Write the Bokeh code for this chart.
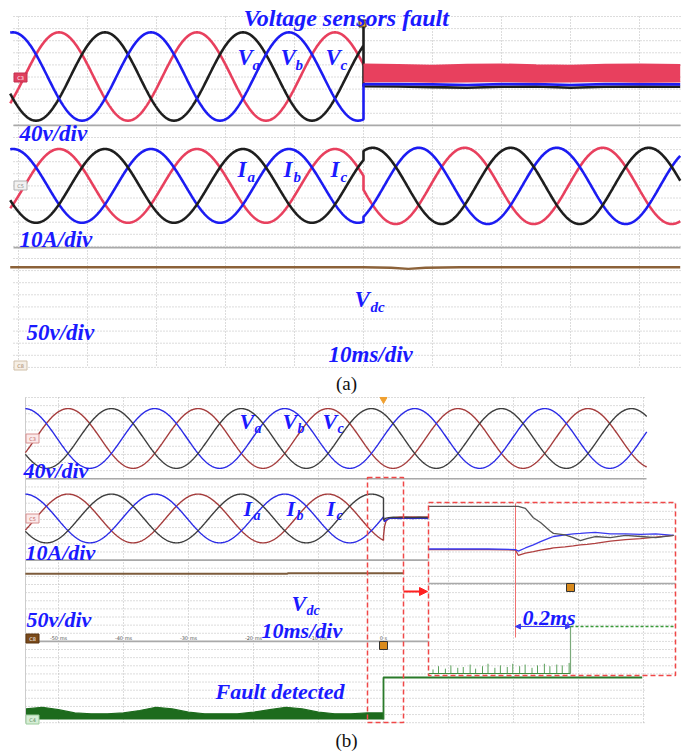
import numpy as np
from bokeh.plotting import figure
from bokeh.models import Range1d, Arrow, NormalHead
from bokeh.core.properties import value
from bokeh.embed import file_html
from bokeh.resources import INLINE

# ------------------------------------------------------------------
# DATA
# ------------------------------------------------------------------
F_HZ = 50.0
PHASE_LAG_MS = [0.0, 20.0 / 3, 40.0 / 3]          # blue -> red -> black
COLORS_A = ["#1c1cf2", "#e8405e", "#1e1e1e"]
COLORS_B = ["#2b2be6", "#a53c3c", "#3d3d3d"]

# panel (a): voltage sensors fault
A_T_START, A_T_END = -51.2, 45.9                   # ms
A_V_PEAK = 146.0                                   # V  (40 V/div)
A_BLUE_PEAK_MS = -10.8
A_I_PEAK_PRE = 30.5                                # A  (10 A/div)
A_I_PEAK_POST = 31.5
A_I_BLUE_PEAK_POST_MS = 8.0
A_BLACK_SPIKE_V = 178.0
A_POST_T = [0, 5, 10, 15, 20, 25, 30, 35, 40, 45.9]
A_RED_TOP = [40, 38, 36, 39, 40, 37, 36, 39, 40, 38]
A_RED_BOT = [-17, -16, -18, -17, -16, -18, -17, -16, -18, -17]
A_BLUE_POST = [-25, -25, -26, -28, -25, -25, -28, -25, -25, -26]
A_BLACK_POST = [-32, -33, -35, -37, -34, -33, -37, -34, -33, -34]
A_VDC_T = [-51.2, -10, 0, 4, 6.5, 9, 14, 45.9]
A_VDC = [400, 400, 400, 398, 393, 398, 400, 400]   # V (50 V/div)

# panel (b): fault detection
B_T_START, B_T_END = -55.1, 40.5
B_V_PEAK = 147.0
B_BLUE_PEAK_MS = -15.2
B_I_PEAK = 30.0
B_POST_T = [0, 0.15, 0.4, 0.8, 1.5, 2.5, 3.5, 4.5, 5.5, 6.9]
B_BLUE_POST = [2, -4, -2, 0, 0.5, 0, 0.5, 0, 0.5, 0]
B_RED_POST = [-22, -10, -3, 0, 1, 2, 1.5, 2, 1.5, 2]
B_BLACK_POST = [-2, -1, 0.5, 1, 1.5, 1, 1.5, 1, 1.5, 1]
B_VDC_T = [-55.1, -14.8, -14.7, 3.1]
B_VDC = [398, 398, 402, 402]
B_DIG_T = [-55, -52.5, -50, -47.5, -45, -42.5, -40, -37.5, -35, -32.5, -30, -27.5,
           -25, -22.5, -20, -17.5, -15, -12.5, -10, -7.5, -5, -2.5, 0]
B_DIG_TOP = [1.3, 1.5, 1.2, 0.8, 0.7, 0.7, 0.8, 1.1, 1.5, 1.3, 0.9, 0.7,
             0.7, 0.7, 0.9, 1.2, 1.5, 1.3, 0.9, 0.7, 0.7, 0.8, 0.8]
B_DIG_HIGH = 5.16
B_DIG_HIGH_END_MS = 39.8
B_TICK_MS = [-50, -40, -30, -20, -10, 0]
B_TICK_TXT = ["-50 ms", "-40 ms", "-30 ms", "-20 ms", "-10 ms", "0 s"]

# inset (ms after the fault, zoomed)
I_T = [-0.316, -0.2, -0.1, 0.0, 0.01, 0.036, 0.065, 0.091, 0.127, 0.138, 0.18,
       0.21, 0.236, 0.26, 0.29, 0.345, 0.4, 0.455, 0.51, 0.575]
I_BLACK = [28, 28, 28, 28, 28, 26, 17, 12.5, 4, 2, 0.5, -2, -5, -3, -1, -2, 0, -1, -2, 0]
I_BLUE = [-13, -13, -13, -13.5, -15, -12, -9, -6, -2, -1, 0.5, 1.5, 2, 2.5, 3, 1.5,
          1.5, 1, 1.5, 0]
I_RED = [-13.5, -13.5, -13.5, -14, -19, -17, -15.5, -14, -12.5, -12, -11, -10, -9,
         -8.5, -7.5, -5.5, -4, -3, -1.5, 0]
I_DETECT_MS = 0.2
I_T_END = 0.575
I_SPIKE_T = [-0.30, -0.28, -0.255, -0.235, -0.21, -0.19, -0.165, -0.145, -0.12, -0.10,
             -0.075, -0.055, -0.03, -0.01, 0.015, 0.035, 0.06, 0.08, 0.105, 0.125,
             0.15, 0.17, 0.195]
I_SPIKE_H = [0.5, 0.9, 0.6, 1.0, 0.7, 0.8, 1.1, 0.6, 0.9, 1.2, 0.7, 1.0, 0.8, 1.2,
             0.9, 1.1, 0.7, 1.0, 1.2, 0.9, 1.1, 1.0, 1.3]
I_DIG_HIGH = 5.78

# ------------------------------------------------------------------
# LAYOUT (image pixels of the reference)
# ------------------------------------------------------------------
IMG_W, IMG_H, MARGIN = 682, 752, 0
A_X0, A_PX_MS, A_Y0, A_PX_ROW = 363, 6.9, 16, 12.1
B_X0, B_PX_MS, B_Y0, B_PX_ROW = 383, 6.5, 397, 8.13
I_X0, I_PX_MS = 515, 275.0

A_V_ZERO, A_V_PER = 4.96, 40.0
A_I_ZERO, A_I_PER = 14.0, 10.0
A_VDC_ZERO, A_VDC_PER = 28.72, 50.0
B_V_ZERO, B_V_PER = 5.04, 40.0
B_I_ZERO, B_I_PER = 14.88, 10.0
B_VDC_ZERO, B_VDC_PER = 29.65, 50.0
B_DIG_ZERO = 39.6
I_I_ZERO, I_I_PER = 16.97, 7.8
I_DIG_ZERO = 33.95

GRID_C = "#b8b8b8"
SEP_C = "#a9a9a9"
TXT_C = "#1a1aff"
FONT = value("Liberation Serif")


def ax(px): return (px - A_X0) / A_PX_MS
def ay(py): return (py - A_Y0) / A_PX_ROW
def bx(px): return (px - B_X0) / B_PX_MS
def by(py): return (py - B_Y0) / B_PX_ROW
def ix(px): return (px - I_X0) / I_PX_MS


def cosw(t, amp, peak_ms):
    return amp * np.cos(2 * np.pi * F_HZ * (np.asarray(t) - peak_ms) / 1000.0)


p = figure(width=IMG_W - 2 * MARGIN, height=IMG_H - 2 * MARGIN,
           x_range=Range1d((MARGIN - A_X0) / A_PX_MS, (IMG_W - MARGIN - A_X0) / A_PX_MS),
           y_range=Range1d((IMG_H - MARGIN - A_Y0) / A_PX_ROW, (MARGIN - A_Y0) / A_PX_ROW),
           x_axis_type=None, y_axis_type=None, output_backend="svg",
           toolbar_location=None, min_border=0, outline_line_color=None,
           background_fill_color="white", border_fill_color="white")
p.extra_x_ranges = {
    "tb": Range1d((MARGIN - B_X0) / B_PX_MS, (IMG_W - MARGIN - B_X0) / B_PX_MS),
    "ti": Range1d((MARGIN - I_X0) / I_PX_MS, (IMG_W - MARGIN - I_X0) / I_PX_MS)}
p.extra_y_ranges = {"rb": Range1d((IMG_H - MARGIN - B_Y0) / B_PX_ROW, (MARGIN - B_Y0) / B_PX_ROW)}

A = dict(x_range_name="default", y_range_name="default")
B = dict(x_range_name="tb", y_range_name="rb")
IN = dict(x_range_name="ti", y_range_name="rb")


def grid(t0, t1, rows, vts, r0, r1, rng):
    p.multi_line(xs=[[t0, t1] for _ in rows], ys=[[r, r] for r in rows],
                 line_color=GRID_C, line_dash="1 2", line_width=1, **rng)
    p.multi_line(xs=[[v, v] for v in vts], ys=[[r0, r1] for _ in vts],
                 line_color=GRID_C, line_dash="1 2", line_width=1, **rng)


def seps(t0, t1, rows, rng, color=SEP_C, w=1.6):
    p.multi_line(xs=[[t0, t1] for _ in rows], ys=[[r, r] for r in rows],
                 line_color=color, line_width=w, **rng)


def text(x, y, s, size, rng, color=TXT_C, style="bold italic", align="left"):
    p.text(x=[x], y=[y], text=[s], text_font=FONT, text_font_style=style,
           text_font_size=f"{size}px", text_color=color, text_baseline="middle",
           text_align=align, **rng)


def tag(x, y, s, fill, line, tcol, rng):
    p.rect(x=[x], y=[y], width=13, height=9, width_units="screen", height_units="screen",
           fill_color=fill, line_color=line, **rng)
    p.text(x=[x], y=[y], text=[s], text_font=value("DejaVu Sans"), text_font_size="5px",
           text_color=tcol, text_align="center", text_baseline="middle", **rng)


# ---------------------------- panel (a) ----------------------------
grid(ax(13), ax(680), list(range(0, 30)), [-50, -40, -30, -20, -10, 0, 10, 20, 30, 40],
     0, 29, A)
seps(ax(13), ax(680), [9.0, 19.1], A)

tpre = np.linspace(A_T_START, 0, 700)
tpost = np.linspace(0, A_T_END, 700)
vr = lambda v: A_V_ZERO - np.asarray(v, dtype=float) / A_V_PER
ir = lambda i: A_I_ZERO - np.asarray(i, dtype=float) / A_I_PER

order = [1, 2, 0]
for k in order:
    v = cosw(tpre, A_V_PEAK, A_BLUE_PEAK_MS + PHASE_LAG_MS[k])
    t = tpre
    if k == 0:
        t = np.concatenate([tpre, A_POST_T]); v = np.concatenate([v, A_BLUE_POST])
    elif k == 2:
        t = np.concatenate([tpre, [0.0], A_POST_T])
        v = np.concatenate([v, [A_BLACK_SPIKE_V], A_BLACK_POST])
    p.line(t, vr(v), line_color=COLORS_A[k], line_width=2.6, **A)
p.varea(x=A_POST_T, y1=vr(A_RED_TOP), y2=vr(A_RED_BOT), fill_color=COLORS_A[1], **A)
p.line(A_POST_T, vr(A_RED_TOP), line_color=COLORS_A[1], line_width=2, **A)
p.line(A_POST_T, vr(A_RED_BOT), line_color=COLORS_A[1], line_width=1.5, **A)

for k in [1, 0, 2]:
    i_pre = cosw(tpre, A_I_PEAK_PRE, A_BLUE_PEAK_MS + PHASE_LAG_MS[k])
    i_post = cosw(tpost, A_I_PEAK_POST, A_I_BLUE_PEAK_POST_MS + PHASE_LAG_MS[k])
    p.line(np.concatenate([tpre, tpost]), ir(np.concatenate([i_pre, i_post])),
           line_color=COLORS_A[k], line_width=2.6, **A)

p.line(A_VDC_T, A_VDC_ZERO - np.asarray(A_VDC) / A_VDC_PER, line_color="#8c6239",
       line_width=2.4, **A)

tag(ax(20), ay(77), "C3", "#e0405e", "#c03050", "white", A)
tag(ax(20), ay(185), "C5", "#f2f2f2", "#b0b0b0", "#888", A)
tag(ax(20), ay(365), "C8", "#f6efe6", "#d0bfa8", "#a08060", A)
p.scatter(x=[ax(362)], y=[ay(23)], marker="square", size=7, fill_color="#f0a030",
          line_color="#222", **A)

text(ax(243), ay(17), "Voltage sensors fault", 24, A)
text(ax(19), ay(133), "40v/div", 23, A)
text(ax(19), ay(239), "10A/div", 23, A)
text(ax(26), ay(332), "50v/div", 23, A)
text(ax(328), ay(354), "10ms/div", 23, A)
for lx, s in [(237, "a"), (280, "b"), (325, "c")]:
    text(ax(lx), ay(57), "V", 23, A)
    text(ax(lx + 15), ay(64), s, 15, A)
for lx, s in [(237, "a"), (283, "b"), (330, "c")]:
    text(ax(lx), ay(169), "I", 23, A)
    text(ax(lx + 10), ay(176), s, 15, A)
text(ax(354), ay(299), "V", 23, A)
text(ax(370), ay(306), "dc", 15, A)
text(ax(346), ay(383), "(a)", 19, A, color="#111", style="normal", align="center")

# ---------------------------- panel (b) ----------------------------
grid(bx(25), bx(646), list(range(0, 41)), [-50, -40, -30, -20, -10, 0, 10, 20, 30, 40],
     0, 40, B)
seps(bx(25), bx(646), [10, 20, 30], B)
p.line([bx(25), bx(25)], [0, 40], line_color="#cccccc", line_width=1, **B)

tb_pre = np.linspace(B_T_START, 0, 700)
tb_all = np.linspace(B_T_START, B_T_END, 1200)
for k in [1, 0, 2]:
    v = cosw(tb_all, B_V_PEAK, B_BLUE_PEAK_MS + PHASE_LAG_MS[k])
    p.line(tb_all, B_V_ZERO - v / B_V_PER, line_color=COLORS_B[k], line_width=1.4, **B)
post = {0: B_BLUE_POST, 1: B_RED_POST, 2: B_BLACK_POST}
for k in [1, 0, 2]:
    i = cosw(tb_pre, B_I_PEAK, B_BLUE_PEAK_MS + PHASE_LAG_MS[k])
    t = np.concatenate([tb_pre, B_POST_T])
    i = np.concatenate([i, post[k]])
    p.line(t, B_I_ZERO - i / B_I_PER, line_color=COLORS_B[k], line_width=1.4, **B)
p.line(B_VDC_T, B_VDC_ZERO - np.asarray(B_VDC) / B_VDC_PER, line_color="#7d5c3c",
       line_width=2, **B)

dig_top = B_DIG_ZERO - np.asarray(B_DIG_TOP)
p.varea(x=B_DIG_T, y1=B_DIG_ZERO, y2=dig_top, fill_color="#1d6b1d", **B)
p.line(B_DIG_T, dig_top, line_color="#1d6b1d", line_width=1.2, **B)
p.line([0, 0, B_DIG_HIGH_END_MS], [B_DIG_ZERO, B_DIG_ZERO - B_DIG_HIGH, B_DIG_ZERO - B_DIG_HIGH],
       line_color="#2a7a2a", line_width=1.8, **B)

tag(bx(32), by(438), "C3", "#fbeaea", "#d89090", "#c06060", B)
tag(bx(32), by(518), "C5", "#fbeaea", "#d89090", "#c06060", B)
tag(bx(32), by(638), "C8", "#7a4a1a", "#5a3510", "white", B)
tag(bx(32), by(719), "C4", "#d6eed6", "#9ccc9c", "#5a8a5a", B)
p.text(x=B_TICK_MS, y=[by(637.5)] * len(B_TICK_MS), text=B_TICK_TXT,
       text_font=value("DejaVu Sans"), text_font_size="5px", text_color="#555",
       text_align="center", text_baseline="middle", **B)
p.scatter(x=[0], y=[by(399)], marker="inverted_triangle", size=7, fill_color="#f0a030",
          line_color="#f0a030", **B)
p.scatter(x=[0], y=[by(645)], marker="square", size=8, fill_color="#d98a1c",
          line_color="#333", **B)

# dashed box around the fault and arrow
p.quad(left=[bx(367)], right=[bx(403)], top=[by(477)], bottom=[by(722)], fill_color=None,
       line_color="#f04848", line_dash="5 3", line_width=1.5, **B)
p.add_layout(Arrow(end=NormalHead(size=8, fill_color="#ff2020", line_color="#ff2020"),
                   x_start=bx(403), y_start=by(591), x_end=bx(427), y_end=by(591),
                   line_color="#ff2020", line_width=2, **B))

# inset
p.quad(left=[bx(428)], right=[bx(675)], top=[by(502)], bottom=[by(675)],
       fill_color="white", line_color=None, **B)
irows = [r for r in range(13, 35)]
grid(bx(428), bx(675), irows, [10, 20, 30, 40], by(502), by(675), B)
seps(bx(428), bx(675), [by(583)], B)
p.line([0, 0], [by(503), by(637)], line_color="#f07070", line_width=1, **IN)
icols = {"black": "#555555", "blue": "#3a3af0", "red": "#b04040"}
p.line(I_T, I_I_ZERO - np.asarray(I_RED) / I_I_PER, line_color=icols["red"], line_width=1.3, **IN)
p.line(I_T, I_I_ZERO - np.asarray(I_BLUE) / I_I_PER, line_color=icols["blue"], line_width=1.3, **IN)
p.line(I_T, I_I_ZERO - np.asarray(I_BLACK) / I_I_PER, line_color=icols["black"], line_width=1.3, **IN)
p.multi_line(xs=[[t, t] for t in I_SPIKE_T],
             ys=[[I_DIG_ZERO, I_DIG_ZERO - h] for h in I_SPIKE_H],
             line_color="#5aa05a", line_width=1, **IN)
p.line([I_T[0], I_DETECT_MS], [I_DIG_ZERO, I_DIG_ZERO], line_color="#3a8a3a", line_width=1.2, **IN)
p.line([I_DETECT_MS, I_DETECT_MS], [I_DIG_ZERO, I_DIG_ZERO - I_DIG_HIGH], line_color="#7aaa7a",
       line_width=1.2, **IN)
p.line([I_DETECT_MS, I_T_END], [I_DIG_ZERO - I_DIG_HIGH] * 2, line_color="#3a9a3a",
       line_dash="3 2", line_width=1.5, **IN)
p.add_layout(Arrow(start=NormalHead(size=5, fill_color="#3a3af0", line_color="#3a3af0"),
                   end=NormalHead(size=5, fill_color="#3a3af0", line_color="#3a3af0"),
                   x_start=0, y_start=I_DIG_ZERO - I_DIG_HIGH, x_end=I_DETECT_MS,
                   y_end=I_DIG_ZERO - I_DIG_HIGH, line_color="#3a3af0", line_width=1, **IN))
p.scatter(x=[I_DETECT_MS], y=[by(587)], marker="square", size=8, fill_color="#d98a1c",
          line_color="#333", **IN)
p.quad(left=[bx(428)], right=[bx(675)], top=[by(502)], bottom=[by(675)], fill_color=None,
       line_color="#f04848", line_dash="5 3", line_width=1.5, **B)

text(bx(23), by(470), "40v/div", 22, B)
text(bx(25), by(552), "10A/div", 22, B)
text(bx(26), by(619), "50v/div", 22, B)
text(bx(261), by(630), "10ms/div", 22, B)
text(bx(215), by(691), "Fault detected", 22, B)
text(ix(522), by(617), "0.2ms", 22, IN)
for lx, s in [(239, "a"), (282, "b"), (322, "c")]:
    text(bx(lx), by(421), "V", 22, B)
    text(bx(lx + 15), by(428), s, 14, B)
for lx, s in [(243, "a"), (286, "b"), (326, "c")]:
    text(bx(lx), by(508), "I", 22, B)
    text(bx(lx + 10), by(515), s, 14, B)
text(bx(291), by(603), "V", 22, B)
text(bx(306), by(610), "dc", 14, B)
text(bx(346), by(740), "(b)", 19, B, color="#111", style="normal", align="center")

open("out.html", "w").write(file_html(p, INLINE))
